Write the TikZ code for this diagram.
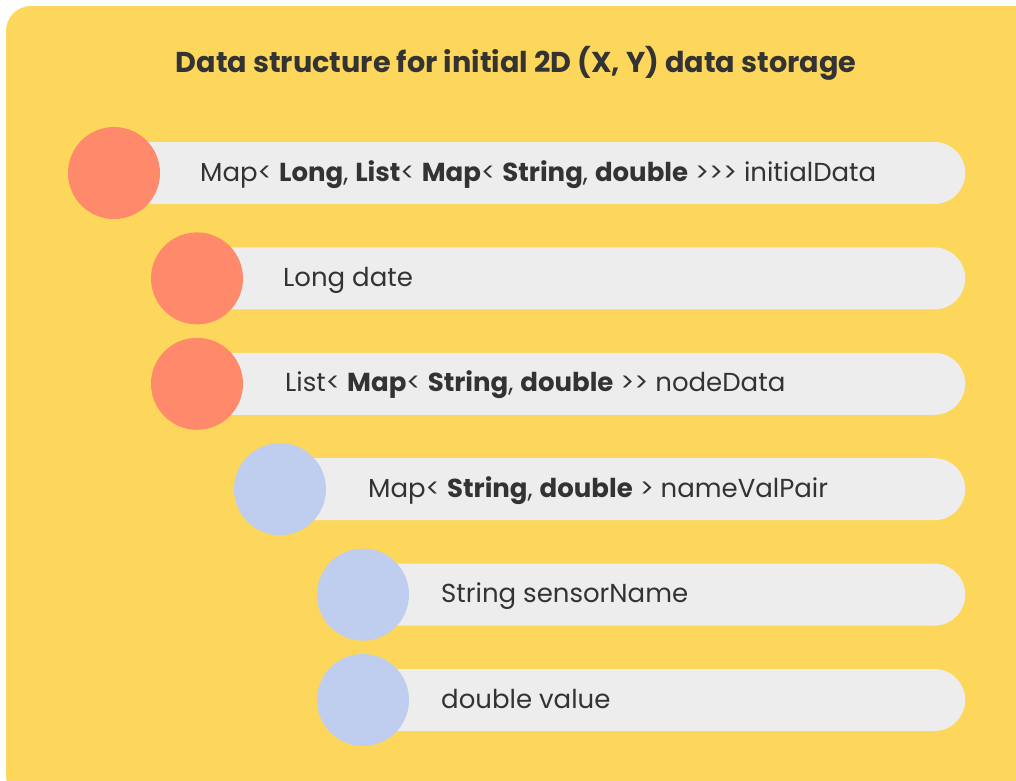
\documentclass[tikz,border=0pt]{standalone}
\usepackage{fontspec}
\setmainfont{Poppins}
\definecolor{bgyellow}{HTML}{FDD75B}
\definecolor{dotred}{HTML}{FF8A6B}
\definecolor{dotblue}{HTML}{BFCDEF}
\definecolor{barfill}{HTML}{EDEDED}
\definecolor{txtdark}{HTML}{333333}
\begin{document}
\begin{tikzpicture}[x=1pt,y=-1pt,
    bar/.style={fill=barfill,rounded corners=31pt,minimum height=62pt,inner sep=0pt,anchor=west},
    dot/.style={circle,minimum size=92pt,inner sep=0pt},
    rowtext/.style={anchor=base west,inner sep=0pt,text=txtdark,font=\fontsize{26}{31}\selectfont}]
    \useasboundingbox (0,0) rectangle (1016,780);
    \begin{scope}
        \clip (0,0) rectangle (1016,780);
        \fill[bgyellow,rounded corners=25pt] (6,6) rectangle (1040,800);
    \end{scope}
    \node[anchor=base,inner sep=0pt,text=txtdark,font=\fontsize{28.7}{34}\selectfont\bfseries] (title) at (516,72)
        {Data structure for initial 2D (X, Y) data storage};
    % rows: circle x / colour / text x / text
    \foreach \i/\cx/\col/\tx/\t in {
        1/114/dotred/200/{Map< \textbf{Long}, \textbf{List}< \textbf{Map}< \textbf{String}, \textbf{double} >{}>{}> initialData},
        2/197/dotred/283/{Long date},
        3/197/dotred/285/{List< \textbf{Map}< \textbf{String}, \textbf{double} >{}> nodeData},
        4/280/dotblue/368/{Map< \textbf{String}, \textbf{double} > nameValPair},
        5/363/dotblue/441/{String sensorName},
        6/363/dotblue/441/{double value}}{
        \pgfmathsetmacro{\cy}{173+105.4*(\i-1)}
        \node[bar,minimum width={965-\cx}] (bar\i) at (\cx,\cy) {};
        \node[dot,fill=\col] (dot\i) at (\cx,\cy) {};
        \node[rowtext] (txt\i) at (\tx,\cy+8) {\t};
    }
\end{tikzpicture}
\end{document}
